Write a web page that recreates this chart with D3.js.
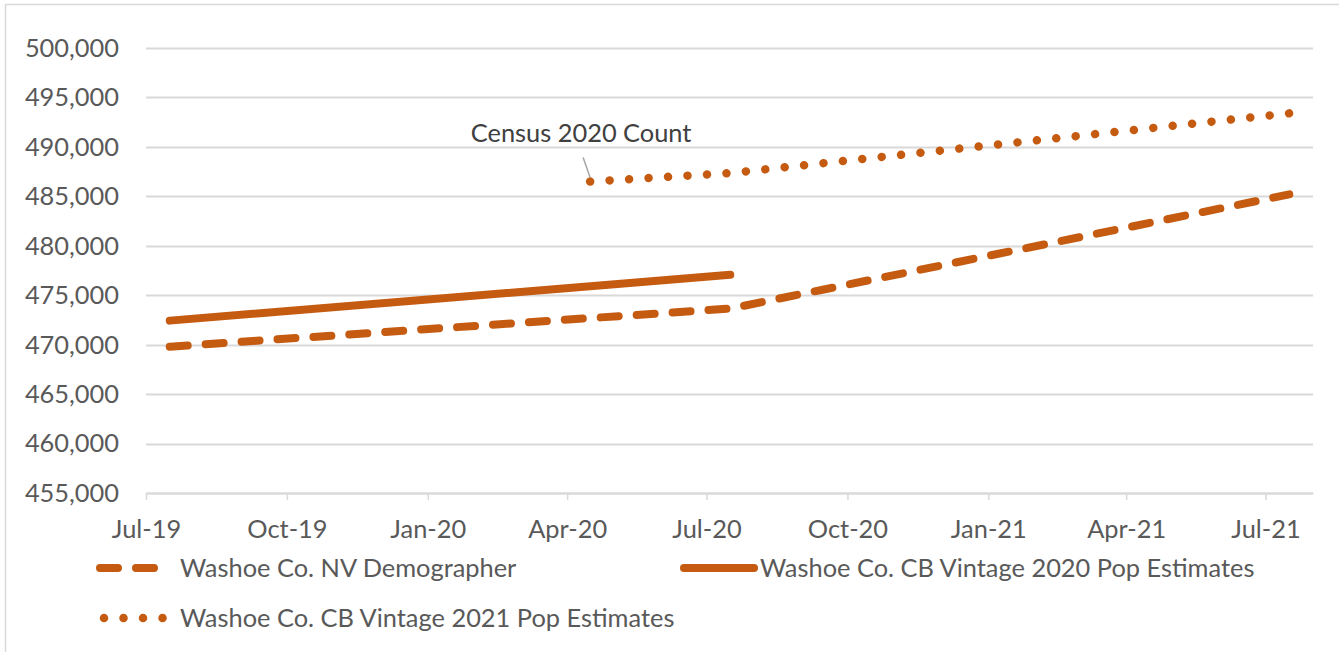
<!DOCTYPE html>
<html>
<head>
<meta charset="utf-8">
<script src="https://cdn.jsdelivr.net/npm/d3@7"></script>
<style>
  html, body { margin: 0; padding: 0; background: #fff; }
  svg { display: block; }
  text { font-family: Lato, "Open Sans", sans-serif; fill: #595959; }
</style>
</head>
<body>
<svg id="chart" width="1339" height="652"></svg>
<script>
// ---- data ----
const tickLabels = ["Jul-19","Oct-19","Jan-20","Apr-20","Jul-20","Oct-20","Jan-21","Apr-21","Jul-21"];
const yTicks = [455000,460000,465000,470000,475000,480000,485000,490000,495000,500000];

const demographerDates  = ["2019-07","2020-07","2021-07"];
const demographerValues = [469800, 473650, 485200];

const vintage2020Dates  = ["2019-07","2020-07"];
const vintage2020Values = [472430, 477070];

const vintage2021Dates  = ["2020-04","2020-07","2021-07"];
const vintage2021Values = [486492, 487350, 493392];

const seriesNames = ["Washoe Co. NV Demographer","Washoe Co. CB Vintage 2020 Pop Estimates","Washoe Co. CB Vintage 2021 Pop Estimates"];
const annotationText = "Census 2020 Count";

// ---- layout ----
const color = "#C55A11";
const fontSize = 25.4;
const svg = d3.select("#chart");
const parse = d3.timeParse("%Y-%m");
const plotLeft = 146, plotRight = 1313, plotTop = 48, plotBottom = 493;

const x = d3.scaleTime()
  .domain([new Date(2019, 6, 1), new Date(2021, 7, 1)])
  .range([plotLeft, plotRight]);
const y = d3.scaleLinear().domain([455000, 500000]).range([plotBottom, plotTop]);

// center of month slot
const xm = d => (x(d) + x(d3.timeMonth.offset(d, 1))) / 2;

// frame
svg.append("rect").attr("x", 5.5).attr("y", 4.5).attr("width", 1400).attr("height", 700)
  .attr("fill", "none").attr("stroke", "#d9d9d9").attr("stroke-width", 1.5);

// gridlines
svg.append("g").selectAll("line").data(yTicks).join("line")
  .attr("x1", plotLeft).attr("x2", plotRight)
  .attr("y1", d => Math.round(y(d)) + 0.5).attr("y2", d => Math.round(y(d)) + 0.5)
  .attr("stroke", "#d9d9d9").attr("stroke-width", 2);

// y labels
svg.append("g").selectAll("text").data(yTicks).join("text")
  .attr("x", 119).attr("y", d => y(d)).attr("dy", "0.35em")
  .attr("text-anchor", "end").attr("font-size", fontSize)
  .text(d => d3.format(",")(d));

// x axis
const tickDates = tickLabels.map(t => d3.timeParse("%b-%y")(t));
const xAxis = d3.axisBottom(x).tickValues(tickDates).tickSize(7).tickFormat((d, i) => tickLabels[i]).tickSizeOuter(0);
const gx = svg.append("g").attr("transform", `translate(0,${plotBottom})`).call(xAxis);
gx.select(".domain").attr("stroke", "#d9d9d9").attr("stroke-width", 2);
gx.selectAll(".tick line").attr("stroke", "#d9d9d9").attr("stroke-width", 1.5);
gx.selectAll(".tick text").attr("font-size", fontSize).attr("y", 36).attr("dy", "0.35em")
  .attr("font-family", "Lato, 'Open Sans', sans-serif").attr("fill", "#595959");

// series
const line = d3.line().x(d => xm(d[0])).y(d => y(d[1]));
const mk = (dates, vals) => dates.map((d, i) => [parse(d), vals[i]]);

const styles = [
  {dash: "18 18", width: 8},
  {dash: null, width: 8},
  {dash: "0.01 19.5", width: 8.5}
];

const seriesData = [
  mk(demographerDates, demographerValues),
  mk(vintage2020Dates, vintage2020Values),
  mk(vintage2021Dates, vintage2021Values)
];

seriesData.forEach((data, i) => {
  svg.append("path").datum(data).attr("d", line)
    .attr("fill", "none").attr("stroke", color)
    .attr("stroke-width", styles[i].width)
    .attr("stroke-linecap", "round").attr("stroke-linejoin", "round")
    .attr("stroke-dasharray", styles[i].dash);
});

// annotation
const censusPt = seriesData[2][0];
const cx = xm(censusPt[0]), cy = y(censusPt[1]);
svg.append("line").attr("x1", cx - 7).attr("y1", cy - 24).attr("x2", cx).attr("y2", cy - 4)
  .attr("stroke", "#a6a6a6").attr("stroke-width", 1.5);
svg.append("text").attr("x", cx - 9).attr("y", cy - 48).attr("dy", "0.35em")
  .attr("text-anchor", "middle").attr("font-size", fontSize).style("fill", "#404040")
  .text(annotationText);

// legend
const legendItems = [
  {x: 100, y: 568, len: 62, tx: 180},
  {x: 684, y: 568, len: 70, tx: 760},
  {x: 104, y: 618, len: 59, tx: 180}
];
legendItems.forEach((l, i) => {
  svg.append("line").attr("x1", l.x).attr("x2", l.x + l.len).attr("y1", l.y).attr("y2", l.y)
    .attr("stroke", color).attr("stroke-width", styles[i].width)
    .attr("stroke-linecap", "round").attr("stroke-dasharray", styles[i].dash);
  svg.append("text").attr("x", l.tx).attr("y", l.y).attr("dy", "0.35em")
    .attr("font-size", fontSize).text(seriesNames[i]);
});
</script>
</body>
</html>
